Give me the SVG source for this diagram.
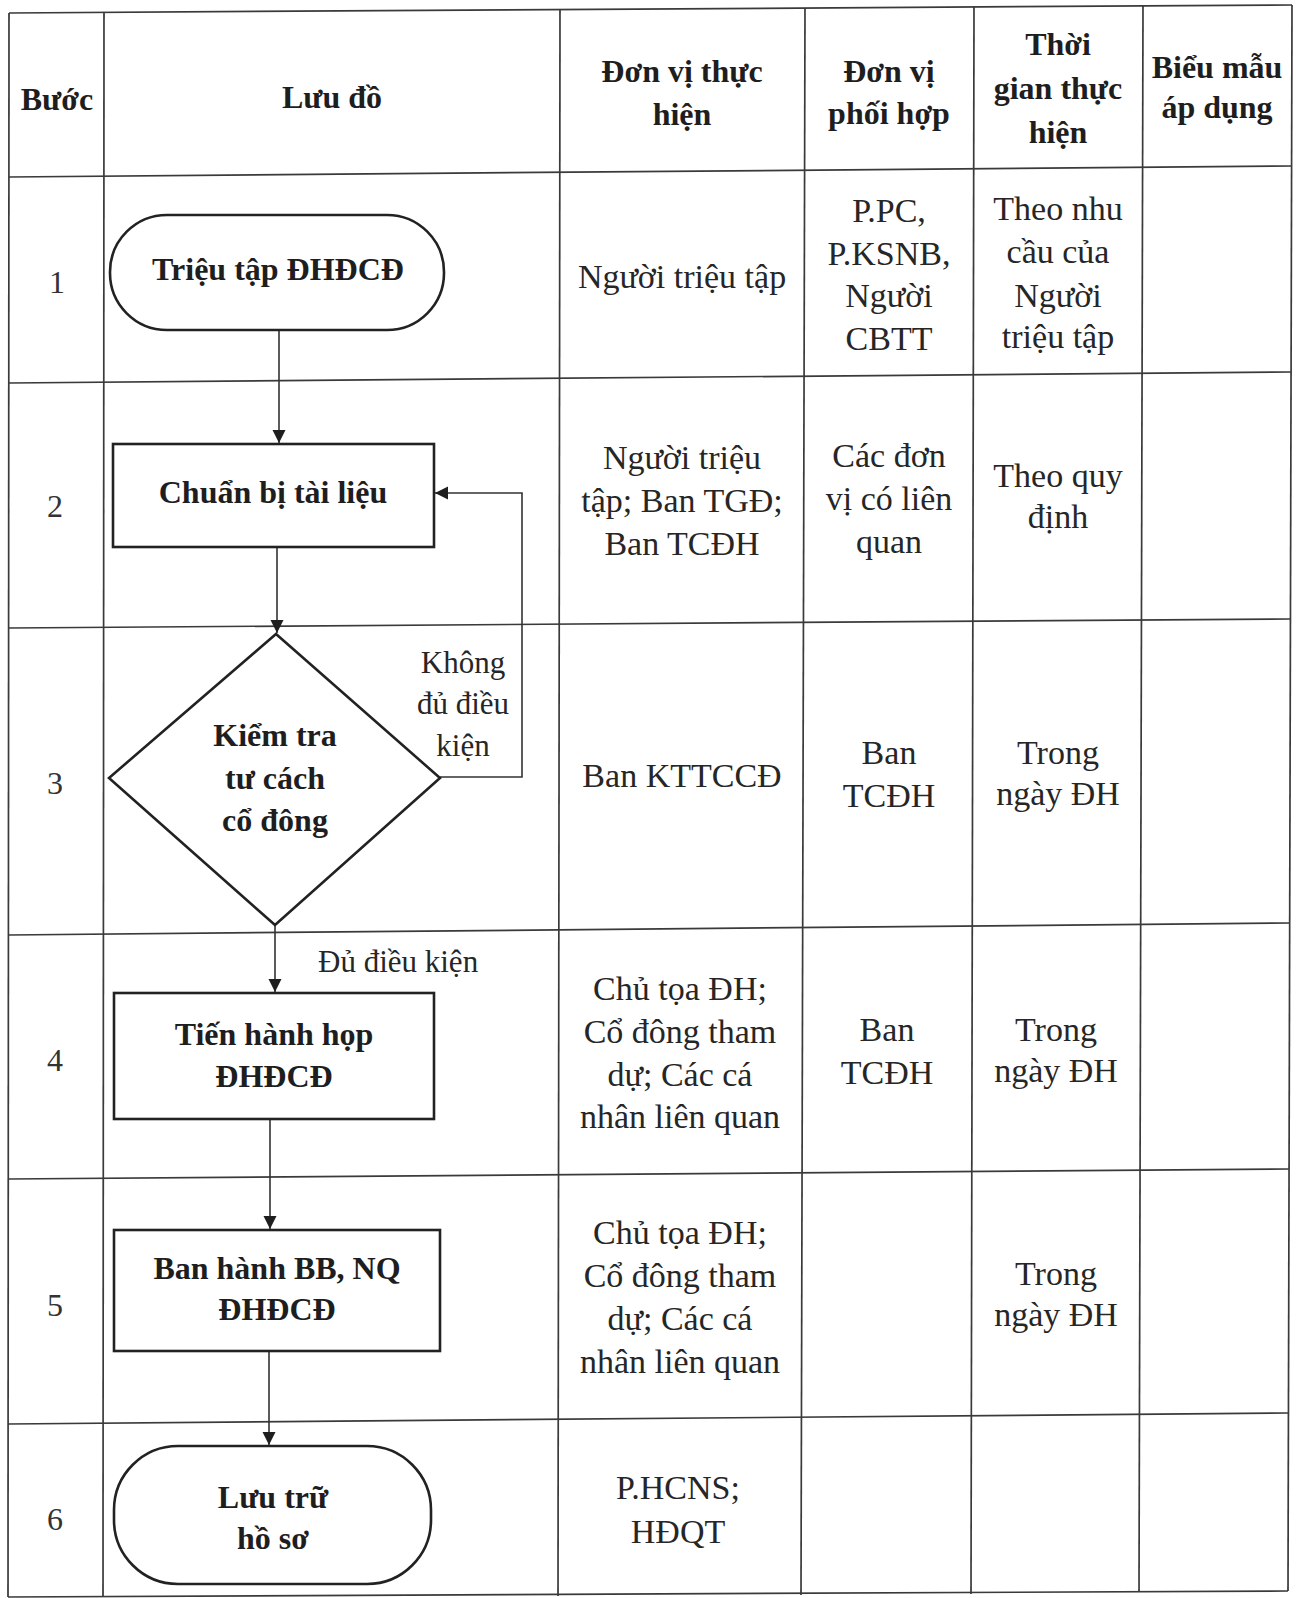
<svg xmlns="http://www.w3.org/2000/svg" width="1302" height="1598" viewBox="0 0 1302 1598">
<style>
.grid{stroke:#3a3a3a;stroke-width:1.7;fill:none}
.node{fill:#fff;stroke:#222;stroke-width:2.6}
.conn{stroke:#333;stroke-width:1.6;fill:none}
.hd{font-family:"Liberation Serif","Times New Roman",serif;font-weight:bold;font-size:32px;fill:#1e1e1e;text-anchor:middle}
.nt{font-family:"Liberation Serif","Times New Roman",serif;font-weight:bold;font-size:32px;fill:#1e1e1e;text-anchor:middle}
.tx{font-family:"Liberation Serif","Times New Roman",serif;font-size:34px;fill:#262626;text-anchor:middle}
.num{font-family:"Liberation Serif","Times New Roman",serif;font-size:32px;fill:#333;text-anchor:middle}
.lb{font-family:"Liberation Serif","Times New Roman",serif;font-size:31px;fill:#262626}
</style>
<defs>
<marker id="arr" markerUnits="userSpaceOnUse" markerWidth="14" markerHeight="14" refX="13" refY="6.5" orient="auto">
<path d="M0,0 L13,6.5 L0,13 z" fill="#1e1e1e"/>
</marker>
</defs>
<rect x="0" y="0" width="1302" height="1598" fill="#fff"/>
<g id="table">
<line class="grid" x1="9" y1="13" x2="1292" y2="5"/>
<line class="grid" x1="9" y1="177" x2="1292" y2="166"/>
<line class="grid" x1="9" y1="383" x2="1291" y2="372"/>
<line class="grid" x1="9" y1="628" x2="1290" y2="619"/>
<line class="grid" x1="9" y1="935" x2="1290" y2="923"/>
<line class="grid" x1="8" y1="1179" x2="1289" y2="1169"/>
<line class="grid" x1="8" y1="1424" x2="1288" y2="1413"/>
<line class="grid" x1="8" y1="1597" x2="1288" y2="1591"/>
<line class="grid" x1="9" y1="13" x2="8" y2="1597"/>
<line class="grid" x1="104" y1="12" x2="103" y2="1597"/>
<line class="grid" x1="560" y1="10" x2="558" y2="1596"/>
<line class="grid" x1="805" y1="8" x2="801" y2="1595"/>
<line class="grid" x1="974" y1="7" x2="971" y2="1594"/>
<line class="grid" x1="1143" y1="6" x2="1139" y2="1592"/>
<line class="grid" x1="1292" y1="5" x2="1288" y2="1591"/>
</g>
<g id="header">
<text class="hd" x="57" y="110">Bước</text>
<text class="hd" x="332" y="108">Lưu đồ</text>
<text class="hd" x="682" y="82">Đơn vị thực<tspan x="682" y="125">hiện</tspan></text>
<text class="hd" x="889" y="82">Đơn vị<tspan x="889" y="124">phối hợp</tspan></text>
<text class="hd" x="1058" y="55">Thời<tspan x="1058" y="99">gian thực</tspan><tspan x="1058" y="143">hiện</tspan></text>
<text class="hd" x="1217" y="78">Biểu mẫu<tspan x="1217" y="118">áp dụng</tspan></text>
</g>
<g id="steps">
<text class="num" x="57" y="293">1</text>
<text class="num" x="55" y="517">2</text>
<text class="num" x="55" y="794">3</text>
<text class="num" x="55" y="1071">4</text>
<text class="num" x="55" y="1316">5</text>
<text class="num" x="55" y="1530">6</text>
</g>
<g id="connectors">
<path class="conn" d="M279,330 V443" marker-end="url(#arr)"/>
<path class="conn" d="M277,547 V633" marker-end="url(#arr)"/>
<path class="conn" d="M440,777 H522 V493 H435" marker-end="url(#arr)"/>
<path class="conn" d="M275,925 V992" marker-end="url(#arr)"/>
<path class="conn" d="M270,1119 V1229" marker-end="url(#arr)"/>
<path class="conn" d="M269,1351 V1445" marker-end="url(#arr)"/>
<text class="lb" x="463" y="673" text-anchor="middle">Không<tspan x="463" y="714">đủ điều</tspan><tspan x="463" y="756">kiện</tspan></text>
<text class="lb" x="318" y="972">Đủ điều kiện</text>
</g>
<g id="node1">
<rect class="node" x="110" y="215" width="334" height="115" rx="57" ry="57"/>
<text class="nt" x="278" y="280">Triệu tập ĐHĐCĐ</text>
</g>
<g id="node2">
<rect class="node" x="113" y="444" width="321" height="103"/>
<text class="nt" x="273" y="503">Chuẩn bị tài liệu</text>
</g>
<g id="node3">
<polygon class="node" points="276,634 440,778 275,925 109,778"/>
<text class="nt" x="275" y="746">Kiểm tra<tspan x="275" y="789">tư cách</tspan><tspan x="275" y="831">cổ đông</tspan></text>
</g>
<g id="node4">
<rect class="node" x="114" y="993" width="320" height="126"/>
<text class="nt" x="274" y="1045">Tiến hành họp<tspan x="274" y="1087">ĐHĐCĐ</tspan></text>
</g>
<g id="node5">
<rect class="node" x="114" y="1230" width="326" height="121"/>
<text class="nt" x="277" y="1279">Ban hành BB, NQ<tspan x="277" y="1320">ĐHĐCĐ</tspan></text>
</g>
<g id="node6">
<rect class="node" x="114" y="1446" width="317" height="138" rx="64" ry="64"/>
<text class="nt" x="273" y="1508">Lưu trữ<tspan x="273" y="1549">hồ sơ</tspan></text>
</g>
<g id="row1">
<text class="tx" x="682" y="288">Người triệu tập</text>
<text class="tx" x="889" y="222">P.PC,<tspan x="889" y="265">P.KSNB,</tspan><tspan x="889" y="307">Người</tspan><tspan x="889" y="350">CBTT</tspan></text>
<text class="tx" x="1058" y="220">Theo nhu<tspan x="1058" y="263">cầu của</tspan><tspan x="1058" y="307">Người</tspan><tspan x="1058" y="348">triệu tập</tspan></text>
</g>
<g id="row2">
<text class="tx" x="682" y="469">Người triệu<tspan x="682" y="512">tập; Ban TGĐ;</tspan><tspan x="682" y="555">Ban TCĐH</tspan></text>
<text class="tx" x="889" y="467">Các đơn<tspan x="889" y="510">vị có liên</tspan><tspan x="889" y="553">quan</tspan></text>
<text class="tx" x="1058" y="487">Theo quy<tspan x="1058" y="528">định</tspan></text>
</g>
<g id="row3">
<text class="tx" x="682" y="787">Ban KTTCCĐ</text>
<text class="tx" x="889" y="764">Ban<tspan x="889" y="807">TCĐH</tspan></text>
<text class="tx" x="1058" y="764">Trong<tspan x="1058" y="805">ngày ĐH</tspan></text>
</g>
<g id="row4">
<text class="tx" x="680" y="1000">Chủ tọa ĐH;<tspan x="680" y="1043">Cổ đông tham</tspan><tspan x="680" y="1086">dự; Các cá</tspan><tspan x="680" y="1128">nhân liên quan</tspan></text>
<text class="tx" x="887" y="1041">Ban<tspan x="887" y="1084">TCĐH</tspan></text>
<text class="tx" x="1056" y="1041">Trong<tspan x="1056" y="1082">ngày ĐH</tspan></text>
</g>
<g id="row5">
<text class="tx" x="680" y="1244">Chủ tọa ĐH;<tspan x="680" y="1287">Cổ đông tham</tspan><tspan x="680" y="1330">dự; Các cá</tspan><tspan x="680" y="1373">nhân liên quan</tspan></text>
<text class="tx" x="1056" y="1285">Trong<tspan x="1056" y="1326">ngày ĐH</tspan></text>
</g>
<g id="row6">
<text class="tx" x="678" y="1499">P.HCNS;<tspan x="678" y="1543">HĐQT</tspan></text>
</g>
</svg>
